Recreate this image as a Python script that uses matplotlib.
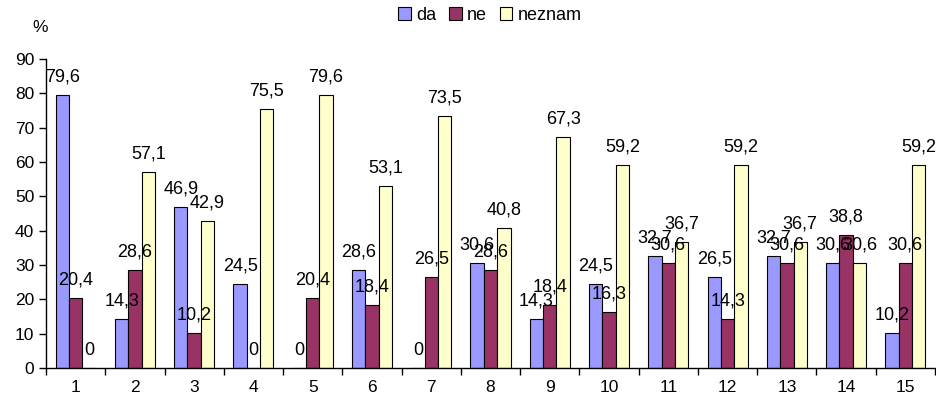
import matplotlib
matplotlib.use("Agg")
import matplotlib.pyplot as plt
import numpy as np

categories = [str(i) for i in range(1, 16)]
da = [79.6, 14.3, 46.9, 24.5, 0, 28.6, 0, 30.6, 14.3, 24.5, 32.7, 26.5, 32.7, 30.6, 10.2]
ne = [20.4, 28.6, 10.2, 0, 20.4, 18.4, 26.5, 28.6, 18.4, 16.3, 30.6, 14.3, 30.6, 38.8, 30.6]
neznam = [0, 57.1, 42.9, 75.5, 79.6, 53.1, 73.5, 40.8, 67.3, 59.2, 36.7, 59.2, 36.7, 30.6, 59.2]
series_names = ["da", "ne", "neznam"]
colors = ["#9999FF", "#993366", "#FFFFCC"]

plt.rcParams['font.family'] = ['Liberation Sans', 'DejaVu Sans']

fig = plt.figure(figsize=(9.36, 4.05), dpi=100)
ax = fig.add_axes([46/936, 37/405, 889/936, 309/405])

x = np.arange(len(categories))
w = 0.225
for i, (vals, name, c) in enumerate(zip([da, ne, neznam], series_names, colors)):
    pos = x + (i - 1) * w
    ax.bar(pos, vals, w, color=c, edgecolor='black', linewidth=0.8, label=name)
    for p, v in zip(pos, vals):
        lab = ("%g" % v).replace('.', ',')
        ax.annotate(lab, (p, v), xytext=(0, 9.5), textcoords='offset points',
                    ha='center', va='baseline', fontsize=13)

ax.set_xlim(-0.5, len(categories) - 0.5)
ax.set_ylim(0, 90)
ax.set_yticks(range(0, 91, 10))
ax.tick_params(axis='y', labelsize=12.5, length=5, width=1, direction='out')
ax.set_xticks(x)
ax.set_xticklabels(categories, fontsize=12.5)
ax.set_xticks(np.arange(-0.5, len(categories), 1), minor=True)
ax.tick_params(axis='x', which='major', length=0, pad=9)
ax.tick_params(axis='x', which='minor', length=5, width=1, direction='out')
for s in ['top', 'right']:
    ax.spines[s].set_visible(False)
ax.spines['left'].set_linewidth(1)
ax.spines['bottom'].set_linewidth(1)

fig.text(40/936, 1 - 28/405, '%', fontsize=12.5, ha='center', va='center')
fig.legend(loc='center', bbox_to_anchor=(490/936, 1 - 15/405), ncol=3, frameon=False,
           fontsize=13, handlelength=0.7, handleheight=0.7, handletextpad=0.3,
           columnspacing=0.7, borderpad=0)

fig.savefig('out.png', dpi=100)
